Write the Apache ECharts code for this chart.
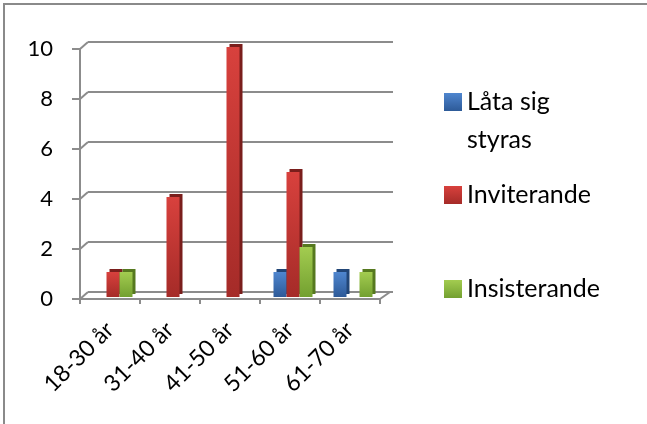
<!DOCTYPE html>
<html><head><meta charset="utf-8">
<script src="https://cdn.jsdelivr.net/npm/echarts@6/dist/echarts.min.js"></script>
<style>html,body{margin:0;padding:0;background:#fff}#c{width:647px;height:424px}</style>
</head><body><div id="c"></div>
<script>
const categories = ['18-30 år', '31-40 år', '41-50 år', '51-60 år', '61-70 år'];
const seriesNames = ['Låta sig styras', 'Inviterande', 'Insisterande'];
const styras = [0, 0, 0, 1, 1];
const inviterande = [1, 4, 10, 5, 0];
const insisterande = [1, 0, 0, 2, 1];
const yTicks = [0, 2, 4, 6, 8, 10];

const FONT = 'Lato';
const GRID_COLOR = '#8c8c8c';
const palette = [
  { top: '#4f86cf', bottom: '#2d5a98', side: '#224677' },
  { top: '#d8413d', bottom: '#a52b28', side: '#7a1e1c' },
  { top: '#a3cc50', bottom: '#73a030', side: '#56791f' }
];
const values = [styras, inviterande, insisterande];

function grad(p) {
  return new echarts.graphic.LinearGradient(0, 0, 0, 1, [
    { offset: 0, color: p.top }, { offset: 1, color: p.bottom }
  ]);
}

const chart = echarts.init(document.getElementById('c'), null, { renderer: 'canvas' });

const barSeries = seriesNames.map((name, i) => ({
  name: name,
  type: 'bar',
  xAxisIndex: 2, yAxisIndex: 2,
  data: values[i],
  barWidth: 13,
  barGap: '0%',
  itemStyle: {
    color: grad(palette[i]),
    shadowColor: palette[i].side,
    shadowOffsetX: 3,
    shadowOffsetY: -3,
    shadowBlur: 0
  },
  emphasis: { disabled: true },
  silent: true
}));

const legendCommon = {
  orient: 'vertical',
  left: 444,
  itemWidth: 18,
  itemHeight: 18,
  padding: 0,
  icon: 'rect',
  selectedMode: false,
  itemStyle: { shadowBlur: 0, shadowOffsetX: 0, shadowOffsetY: 0, shadowColor: 'rgba(0,0,0,0)' }
};

const option = {
  backgroundColor: '#fff',
  animation: false,
  graphic: [{
    type: 'rect', silent: true,
    shape: { x: 4, y: 4, width: 700, height: 500 },
    style: { fill: 'none', stroke: '#8a8a8a', lineWidth: 2 }
  }],
  legend: [
    Object.assign({}, legendCommon, {
      top: 45,
      data: [seriesNames[0]],
      formatter: () => '\nLåta sig\nstyras',
      textStyle: { fontFamily: FONT, fontSize: 25, color: '#000', lineHeight: 38 }
    }),
    Object.assign({}, legendCommon, {
      top: 180,
      data: [seriesNames[1]],
      textStyle: { fontFamily: FONT, fontSize: 25, color: '#000', lineHeight: 30 }
    }),
    Object.assign({}, legendCommon, {
      top: 274,
      data: [seriesNames[2]],
      textStyle: { fontFamily: FONT, fontSize: 25, color: '#000', lineHeight: 30 }
    })
  ],
  grid: [
    { left: 80, top: 49, width: 300, height: 250 },   // front axes
    { left: 88, top: 42, width: 305, height: 250 },   // back wall
    { left: 83, top: 47, width: 300, height: 250 }    // bars
  ],
  xAxis: [
    {
      gridIndex: 0, type: 'category', data: categories, boundaryGap: true,
      axisLine: { show: true, lineStyle: { color: GRID_COLOR, width: 2 } },
      axisTick: { show: true, length: 5, lineStyle: { color: GRID_COLOR, width: 2 } },
      axisLabel: { rotate: 45, fontFamily: FONT, fontSize: 23, color: '#000', margin: 27, interval: 0 },
      splitLine: { show: false }
    },
    { gridIndex: 1, type: 'category', data: categories, show: false },
    { gridIndex: 2, type: 'category', data: categories, show: false }
  ],
  yAxis: [
    {
      gridIndex: 0, type: 'value', min: 0, max: 10, interval: 2,
      axisLine: { show: true, lineStyle: { color: GRID_COLOR, width: 2 } },
      axisTick: { show: true, length: 8, lineStyle: { color: GRID_COLOR, width: 2 } },
      axisLabel: { fontFamily: FONT, fontSize: 22, color: '#000', margin: 27 },
      splitLine: { show: false }
    },
    {
      gridIndex: 1, type: 'value', min: 0, max: 10, interval: 2,
      axisLine: { show: false }, axisTick: { show: false }, axisLabel: { show: false },
      splitLine: { show: true, lineStyle: { color: GRID_COLOR, width: 2 } }
    },
    { gridIndex: 2, type: 'value', min: 0, max: 10, interval: 2, show: false, splitLine: { show: false } }
  ],
  series: [
    {
      type: 'custom',
      name: 'stubs',
      xAxisIndex: 0, yAxisIndex: 0,
      silent: true,
      z: 1,
      data: yTicks.map(v => [0, v]),
      renderItem: function (params, api) {
        const cs = params.coordSys;
        const y = api.coord([0, api.value(1)])[1];
        const st = { stroke: GRID_COLOR, lineWidth: 2, fill: null };
        const children = [{ type: 'line', shape: { x1: cs.x, y1: y, x2: cs.x + 8, y2: y - 7 }, style: st }];
        if (api.value(1) === 0) {
          children.push({ type: 'line', shape: { x1: cs.x + cs.width, y1: y, x2: cs.x + cs.width + 10, y2: y - 7 }, style: st });
        }
        return { type: 'group', children: children };
      }
    }
  ].concat(barSeries)
};

chart.setOption(option);
</script>
</body></html>
